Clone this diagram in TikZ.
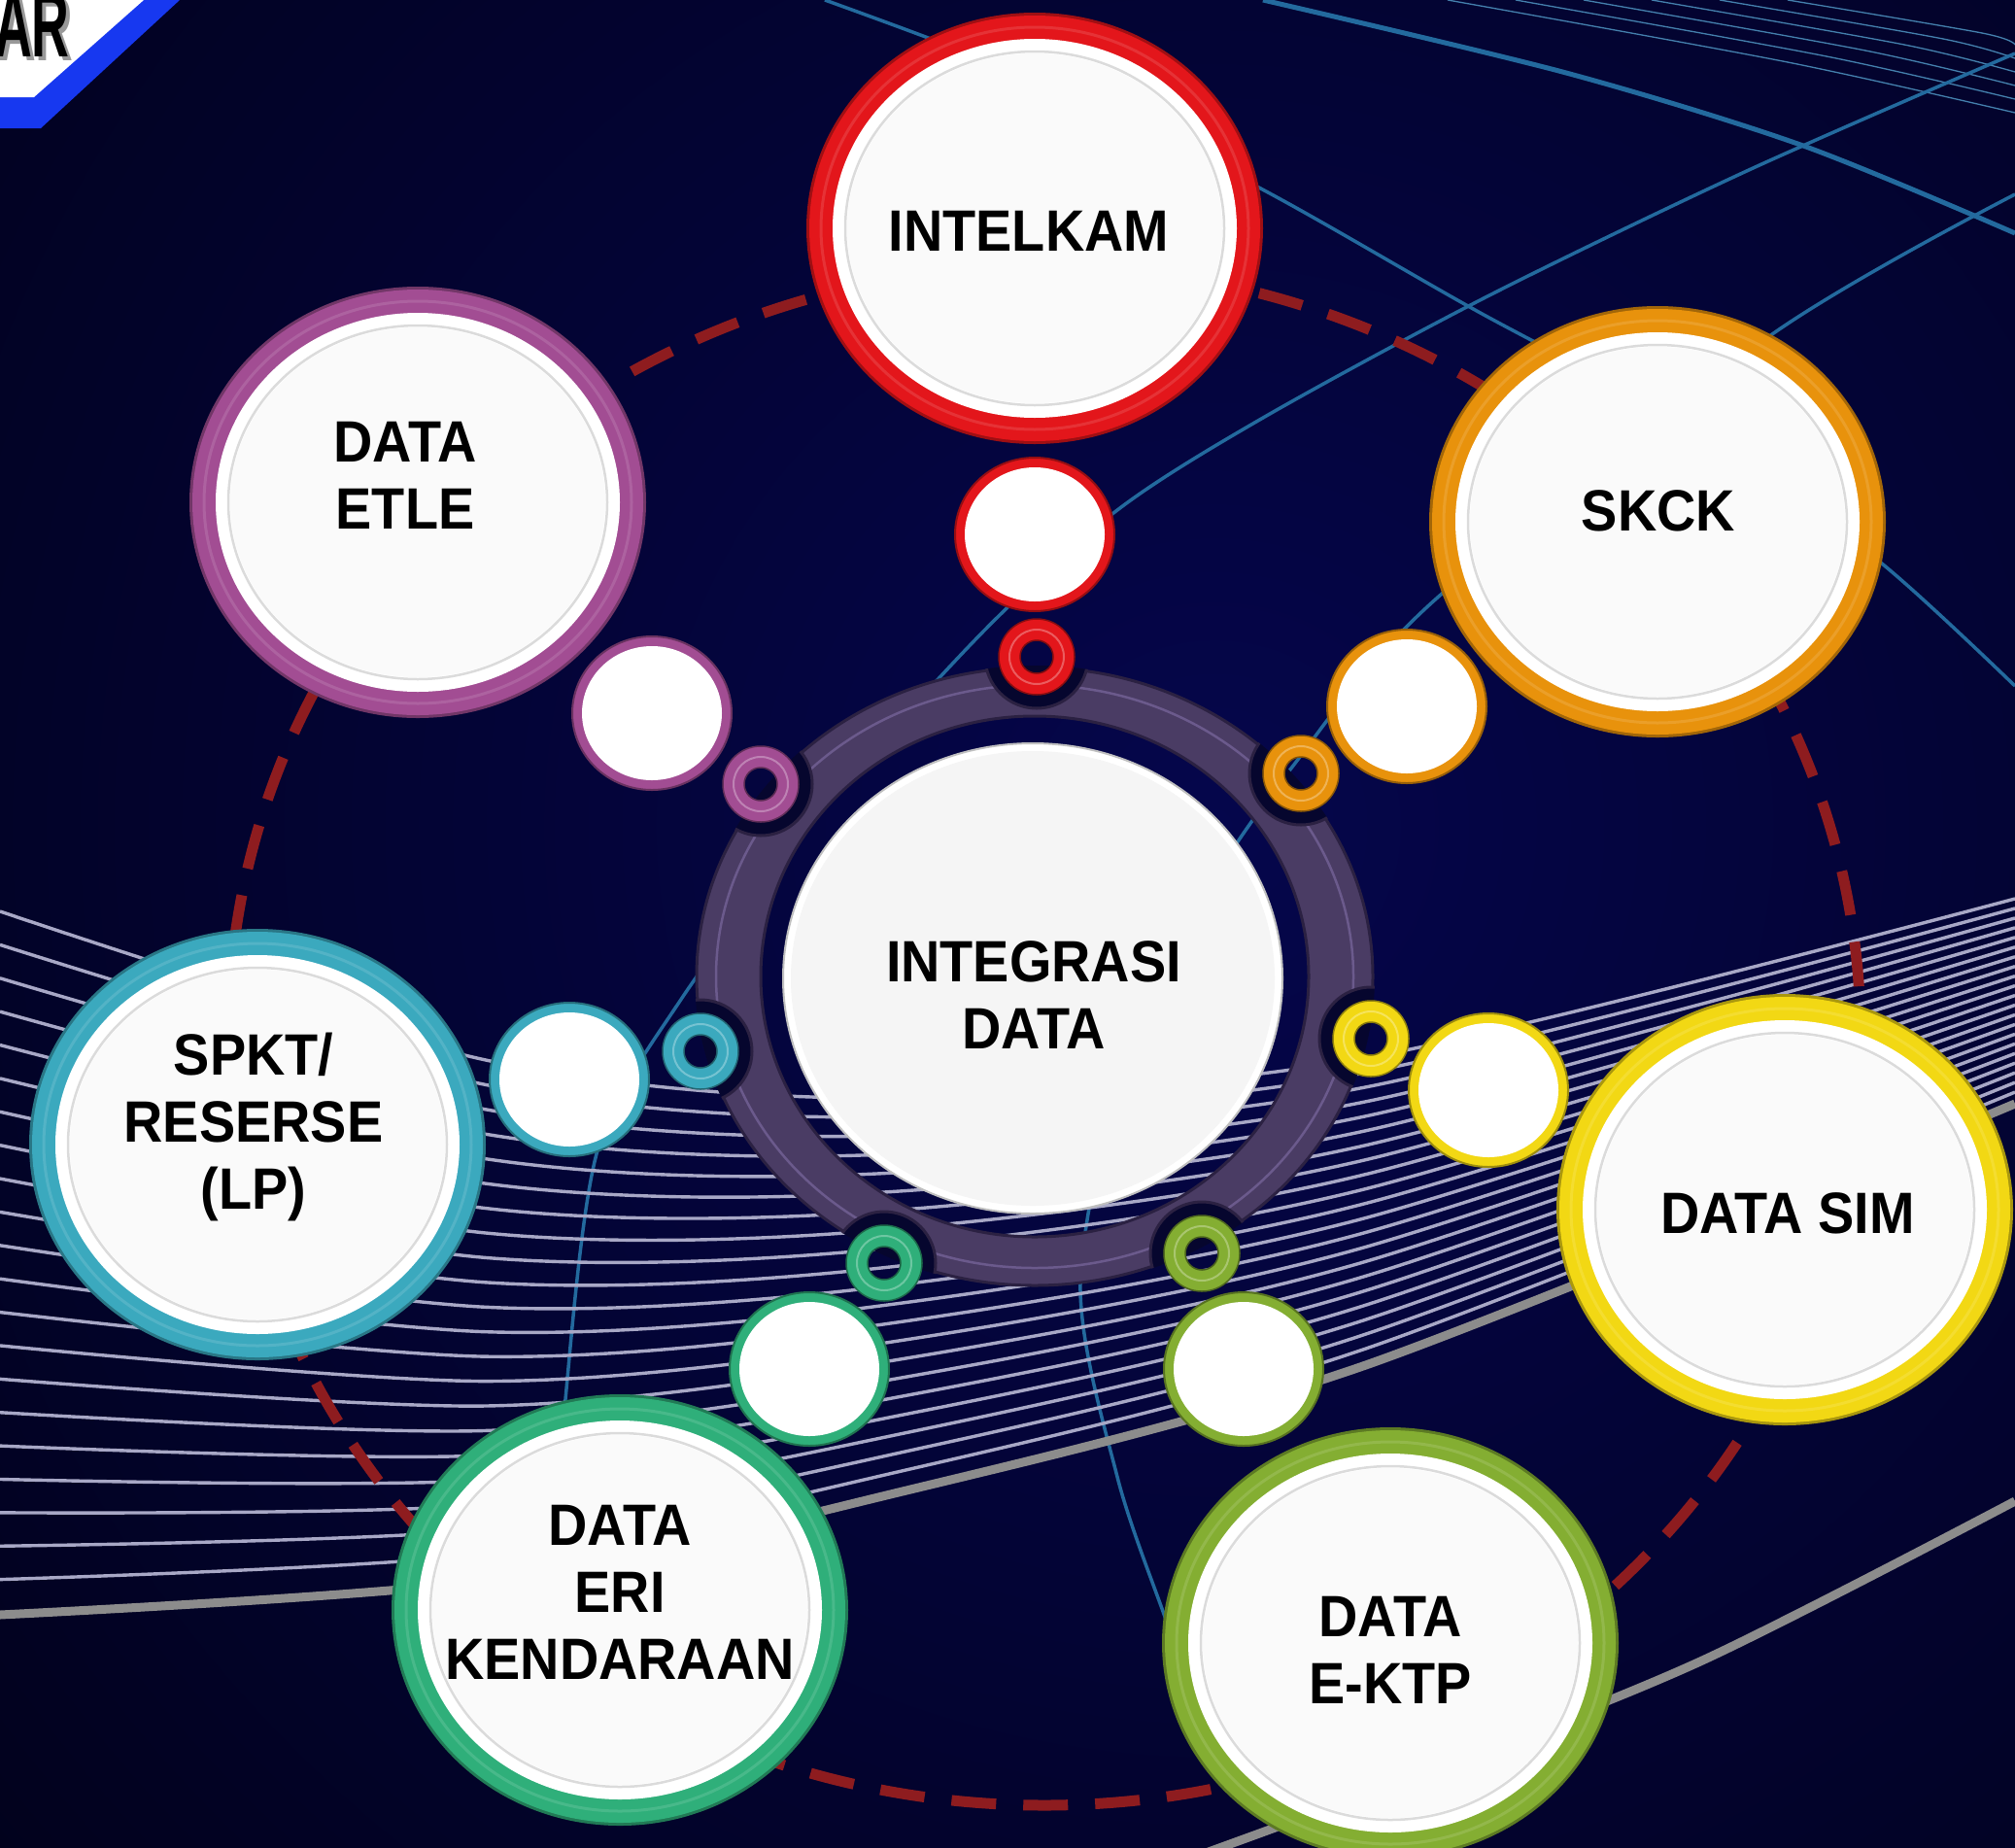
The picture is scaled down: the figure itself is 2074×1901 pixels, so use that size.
\documentclass[tikz,border=0pt]{standalone}
\usepackage{fontspec}
\newfontfamily\lblfont[FakeStretch=0.93]{Liberation Sans}
\newfontfamily\logofont[FakeStretch=0.56]{Liberation Sans}
\definecolor{bgA}{HTML}{00000A}
\definecolor{bgB}{HTML}{05064C}
\definecolor{cRed}{HTML}{E3161B}
\definecolor{cPurple}{HTML}{A24D93}
\definecolor{cOrange}{HTML}{E8920C}
\definecolor{cCyan}{HTML}{3BA9BE}
\definecolor{cYellow}{HTML}{F2D814}
\definecolor{cGreen}{HTML}{2FAF7A}
\definecolor{cOlive}{HTML}{84AE32}
\definecolor{dashred}{HTML}{8E1C1F}
\definecolor{bandfill}{HTML}{4A3C64}
\definecolor{bandedge}{HTML}{2B2142}
\definecolor{bandhi}{HTML}{6B5A8C}
\definecolor{notchc}{HTML}{06062E}
\definecolor{stripe}{HTML}{A8A8C6}
\definecolor{thickgray}{HTML}{8C8C8C}
\definecolor{meridian}{HTML}{236A9E}
\definecolor{logoblue}{HTML}{1738F0}
\newcommand\bigdisk[3]{%
  \fill[#3!70!black] (#1,#2) ellipse[x radius=235, y radius=222];
  \fill[#3] (#1,#2) ellipse[x radius=232, y radius=219];
  \draw[#3!88!white, line width=3] (#1,#2) ellipse[x radius=220, y radius=207];
  \fill[white] (#1,#2) ellipse[x radius=208, y radius=195];
  \draw[black!14, line width=2.5] (#1,#2) ellipse[x radius=195, y radius=182];
  \fill[black!2] (#1,#2) ellipse[x radius=193, y radius=180];
}
\newcommand\middisk[3]{%
  \fill[#3] (#1,#2) ellipse[x radius=82, y radius=79];
  \draw[#3!65!black, line width=2] (#1,#2) ellipse[x radius=82, y radius=79];
  \fill[white] (#1,#2) ellipse[x radius=72, y radius=69];
}
\newcommand\smallring[3]{%
  \fill[#3, even odd rule] (#1,#2) circle (39) (#1,#2) circle (17);
  \draw[#3!60!black, line width=1.5] (#1,#2) circle (39);
  \draw[#3!70!white, line width=2] (#1,#2) circle (28);
  \draw[#3!55!black, line width=1.5] (#1,#2) circle (17);
}
\tikzset{
  lbl/.style={font=\lblfont\bfseries\fontsize{60}{69}\selectfont, align=center, text=black, inner sep=0pt},
  stripeline/.style={stripe, line width=3.4},
  merline/.style={meridian, line width=3.5},
  logotext/.style={font=\logofont\bfseries\fontsize{96}{96}\selectfont, anchor=base east, inner sep=0pt},
}
\begin{document}
\begin{tikzpicture}[x=1pt,y=-1pt]
\useasboundingbox (0,0) rectangle (2074,1901);
\begin{scope}
  \clip (0,0) rectangle (2074,1901);
  \fill[bgA] (0,0) rectangle (2074,1901);
  \shade[inner color=bgB, outer color=bgA] (1250,850) circle (2300);
  % globe lines (blue)
  \draw[merline, line width=5] plot[smooth] coordinates {(1300,0) (1612,75) (1856,150) (2074,240)};
  \foreach \k in {1,...,6}{
    \draw[meridian!85, line width=1.3] plot[smooth] coordinates {(1420+70*\k,0) (1800+40*\k,70-6*\k) (2074,130-14*\k)};
  }
  \draw[merline] plot[smooth] coordinates {(849,0) (1060,80) (1290,190) (1520,320) (1760,450) (1937,580) (2074,706)};
  \draw[merline] plot[smooth] coordinates {(2074,55) (1800,175) (1531,305) (1300,430) (1150,525) (1012,650) (850,830) (700,1030) (615,1184) (582,1440) (578,1560)};
  \draw[merline] plot[smooth] coordinates {(2074,200) (1824,344) (1474,620) (1328,792) (1240,920) (1160,1080) (1112,1320) (1150,1520) (1200,1667) (1240,1780)};
  % stripes
  \foreach \i in {0,...,20}{
    \pgfmathsetmacro\ya{938+\i/21*722}
    \pgfmathsetmacro\yb{1091+\i/21*534}
    \pgfmathsetmacro\yc{1130+\i/21*410}
    \pgfmathsetmacro\yd{1090+\i/21*315}
    \pgfmathsetmacro\ye{925+\i/21*209}
    \draw[stripeline] plot[smooth] coordinates {(0,\ya) (500,\yb) (900,\yc) (1400,\yd) (2074,\ye)};
  }
  \draw[thickgray, line width=9] plot[smooth] coordinates {(0,1662) (500,1627) (900,1542) (1400,1407) (2074,1136)};
  \draw[thickgray, line width=9] plot[smooth] coordinates {(1150,1940) (1450,1830) (1750,1710) (2074,1545)};
\end{scope}
% dashed orbit
\draw[dashred, line width=11, dash pattern=on 46pt off 28pt] (1075,1066) ellipse[x radius=840, y radius=792];
% purple band
\fill[bandfill, even odd rule] (1065,1005) ellipse[x radius=348, y radius=318] (1065,1005) ellipse[x radius=282, y radius=268];
\draw[bandhi, line width=2.5] (1065,1005) ellipse[x radius=328, y radius=300];
\draw[bandedge, line width=3] (1065,1005) ellipse[x radius=348, y radius=318];
\draw[bandedge, line width=3] (1065,1005) ellipse[x radius=282, y radius=268];
\begin{scope}
  \clip (1065,1005) ellipse[x radius=350, y radius=320];
  \foreach \p in {(1067,676),(1339,796),(1411,1069),(1237,1290),(910,1300),(721,1082),(783,807)}{
    \fill[notchc] \p circle (53);
    \draw[bandedge, line width=3] \p circle (53);
  }
\end{scope}
% small rings
\smallring{1067}{676}{cRed}
\smallring{1339}{796}{cOrange}
\smallring{1411}{1069}{cYellow}
\smallring{1237}{1290}{cOlive}
\smallring{910}{1300}{cGreen}
\smallring{721}{1082}{cCyan}
\smallring{783}{807}{cPurple}
% center disc
\fill[white] (1063,1007) ellipse[x radius=257, y radius=242];
\draw[black!25, line width=2] (1063,1007) ellipse[x radius=257, y radius=242];
\fill[black!4] (1063,1007) ellipse[x radius=249, y radius=234];
% medium discs
\middisk{1065}{550}{cRed}
\middisk{1448}{727}{cOrange}
\middisk{1532}{1122}{cYellow}
\middisk{1280}{1409}{cOlive}
\middisk{833}{1409}{cGreen}
\middisk{586}{1111}{cCyan}
\middisk{671}{734}{cPurple}
% big discs
\bigdisk{1065}{235}{cRed}
\bigdisk{430}{517}{cPurple}
\bigdisk{1706}{537}{cOrange}
\bigdisk{265}{1178}{cCyan}
\bigdisk{1837}{1245}{cYellow}
\bigdisk{638}{1657}{cGreen}
\bigdisk{1431}{1691}{cOlive}
% labels
\node[lbl] (t-center) at (1064,1024) {INTEGRASI\\DATA};
\node[lbl] (t-intelkam) at (1059,238) {INTELKAM};
\node[lbl] (t-etle) at (417,489) {DATA\\ETLE};
\node[lbl] (t-skck) at (1707,526) {SKCK};
\node[lbl] (t-spkt) at (261,1160) {SPKT/\\RESERSE\\(LP)};
\node[lbl] (t-sim) at (1840,1249) {DATA SIM};
\node[lbl] (t-eri) at (638,1639) {DATA\\ERI\\KENDARAAN};
\node[lbl] (t-ektp) at (1431,1698) {DATA\\E-KTP};
% logo corner
\begin{scope}
  \clip (0,0) rectangle (2074,1901);
  \fill[logoblue] (0,0) -- (185,0) -- (42,132) -- (0,132) -- cycle;
  \fill[white] (0,0) -- (148,0) -- (35,100) -- (0,100) -- cycle;
  \node[logotext, text=black!40] (logo-shadow) at (76,62) {AR};
  \node[logotext, text=black] (logo-text) at (72,58) {AR};
\end{scope}
\end{tikzpicture}
\end{document}
